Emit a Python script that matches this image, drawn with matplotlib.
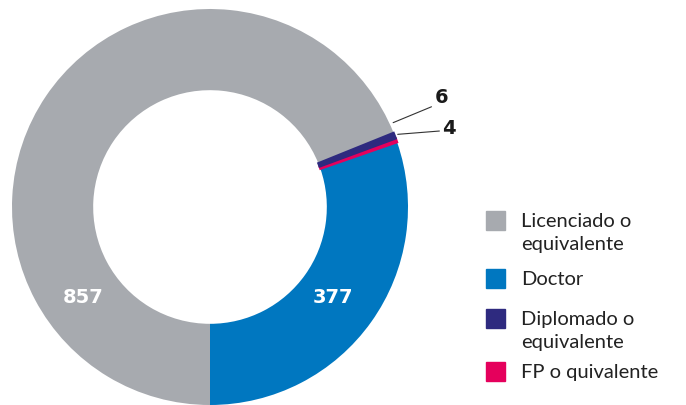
import matplotlib.pyplot as plt
import numpy as np
from matplotlib.patches import Rectangle

# data (pie order, counter-clockwise from the bottom)
categories = ["Doctor", "FP o quivalente", "Diplomado o\nequivalente", "Licenciado o\nequivalente"]
values = [377, 4, 6, 857]
colors = ["#0077c0", "#e5005c", "#2e2a7f", "#a7aaaf"]

# legend order
legend_order = [3, 0, 2, 1]

plt.rcParams['font.family'] = ['Lato', 'DejaVu Sans']

fig = plt.figure(figsize=(6.86, 4.06), dpi=100)
ax = fig.add_axes([12 / 686, 0.0, 396 / 686, 396 / 406])

wedges, _ = ax.pie(values, colors=colors, startangle=-90, counterclock=True,
                   radius=1.0, wedgeprops=dict(width=0.41, edgecolor='none'))
# the two thin slices get a same-coloured outline so they stay visible
for w in wedges[1:3]:
    w.set_edgecolor(w.get_facecolor())
    w.set_linewidth(1.6)
    w.set_zorder(3)
wedges[2].set_zorder(4)

ax.set_xlim(-1, 1)
ax.set_ylim(-1, 1)
ax.set_aspect('equal')
ax.set_axis_off()

num_font = dict(family='DejaVu Sans', fontsize=14, fontweight='bold')

# big labels inside the ring
ax.text(0.62, -0.45, str(values[0]), color='white', ha='center', va='center', **num_font)
ax.text(-0.64, -0.45, str(values[3]), color='white', ha='center', va='center', **num_font)

# small slices with leader lines
ax.annotate(str(values[2]), xy=(0.925, 0.426), xytext=(1.167, 0.56),
            color='#1a1a1a', ha='center', va='center', **num_font,
            arrowprops=dict(arrowstyle='-', color='#333333', lw=0.8,
                            shrinkA=0, shrinkB=0, relpos=(0.0, 0.0)),
            annotation_clip=False)
ax.annotate(str(values[1]), xy=(0.948, 0.367), xytext=(1.207, 0.404),
            color='#1a1a1a', ha='center', va='center', **num_font,
            arrowprops=dict(arrowstyle='-', color='#333333', lw=0.8,
                            shrinkA=0, shrinkB=0, relpos=(0.0, 0.3)),
            annotation_clip=False)

# legend drawn by hand (square aligned with the first line)
W, H = 686.0, 406.0
sq_tops = [212, 270, 310, 363]
for top, i in zip(sq_tops, legend_order):
    fig.patches.append(Rectangle((486 / W, 1 - (top + 19) / H), 19 / W, 19 / H,
                                 transform=fig.transFigure, color=colors[i]))
    for k, line in enumerate(categories[i].split("\n")):
        fig.text(521 / W, 1 - (top + 9.5 + 23 * k) / H, line, fontsize=14.5,
                 color='#222222', ha='left', va='center')

fig.savefig("out.png", dpi=100)
